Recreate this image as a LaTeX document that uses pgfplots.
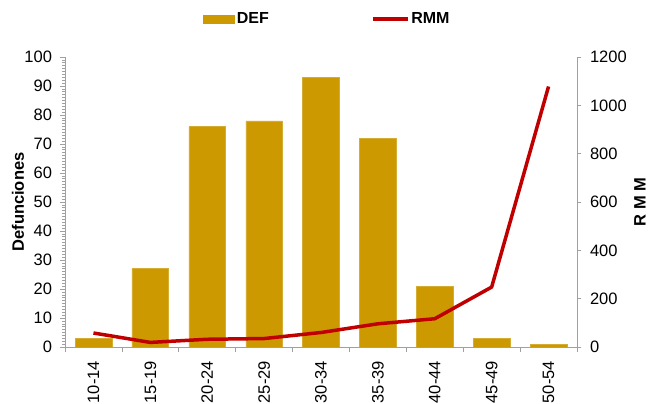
\documentclass[border=0pt]{standalone}
\usepackage{pgfplots}
\pgfplotsset{compat=1.18}
\usepackage{fontspec}
\setmainfont{Liberation Sans}
\definecolor{gold}{HTML}{CC9900}
\definecolor{rmm}{HTML}{C00000}
\definecolor{axgray}{HTML}{A0A0A0}
\newcommand{\fs}{\fontsize{16.5bp}{19bp}\selectfont}
\begin{document}
\begin{tikzpicture}
\pgfplotsset{every axis/.append style={scale only axis, width=512bp, height=290bp, xmin=-0.5, xmax=8.5,
  /pgf/number format/assume math mode=true, /pgf/number format/1000 sep={},
  tick align=outside, tick style={axgray, line width=0.6pt},
  axis line style={axgray, line width=0.8pt}, major tick length=4.5bp, minor tick length=2.5bp,
  ticklabel style={font=\fs}, label style={font=\fs\bfseries}}}
\begin{axis}[
  ymin=0, ymax=100, ytick={0,10,...,100}, minor y tick num=9,
  axis y line*=left, axis x line*=bottom,
  xtick={-0.5,0.5,...,8.5}, x tick label as interval=true,
  xticklabels={10-14,15-19,20-24,25-29,30-34,35-39,40-44,45-49,50-54},
  xticklabel style={rotate=90, anchor=east, xshift=-6bp},
  yticklabel style={xshift=-5bp},
  ylabel={Defunciones},
  ylabel style={at={(axis description cs:0,0.5)}, anchor=center, yshift=47bp},
]
\addplot[ybar, bar width=36.7bp, fill=gold, draw=gold!80!white] coordinates {
(0,3) (1,27) (2,76) (3,78) (4,93) (5,72) (6,21) (7,3) (8,1)};
\end{axis}
\begin{axis}[
  ymin=0, ymax=1200, ytick={0,200,...,1200},
  axis y line*=right, axis x line=none,
  yticklabel style={xshift=5bp},
  ylabel={R M M},
  ylabel style={at={(axis description cs:1,0.5)}, anchor=center, yshift=-63bp},
  legend columns=2,
  legend style={draw=none, fill=none, at={(0.5,1)}, anchor=center, yshift=38bp, xshift=6.5bp,
    font=\fontsize{16bp}{18bp}\selectfont\bfseries, /tikz/every even column/.append style={column sep=100bp}},
]
\addlegendimage{legend image code/.code={\fill[gold] (0bp,-4bp) rectangle (31bp,4bp);}}
\addlegendentry{DEF}
\addplot[rmm, line width=3.5bp, line join=round, forget plot] coordinates {
(0,58) (1,19) (2,32) (3,35) (4,60) (5,96) (6,117) (7,248) (8,1078)};
\addlegendimage{legend image code/.code={\draw[rmm, line width=3.5bp] (0bp,0bp) -- (35bp,0bp);}}
\addlegendentry{RMM}
\end{axis}
\pgfresetboundingbox
\path (-65bp,-57bp) rectangle (583bp,347bp);
\end{tikzpicture}
\end{document}
